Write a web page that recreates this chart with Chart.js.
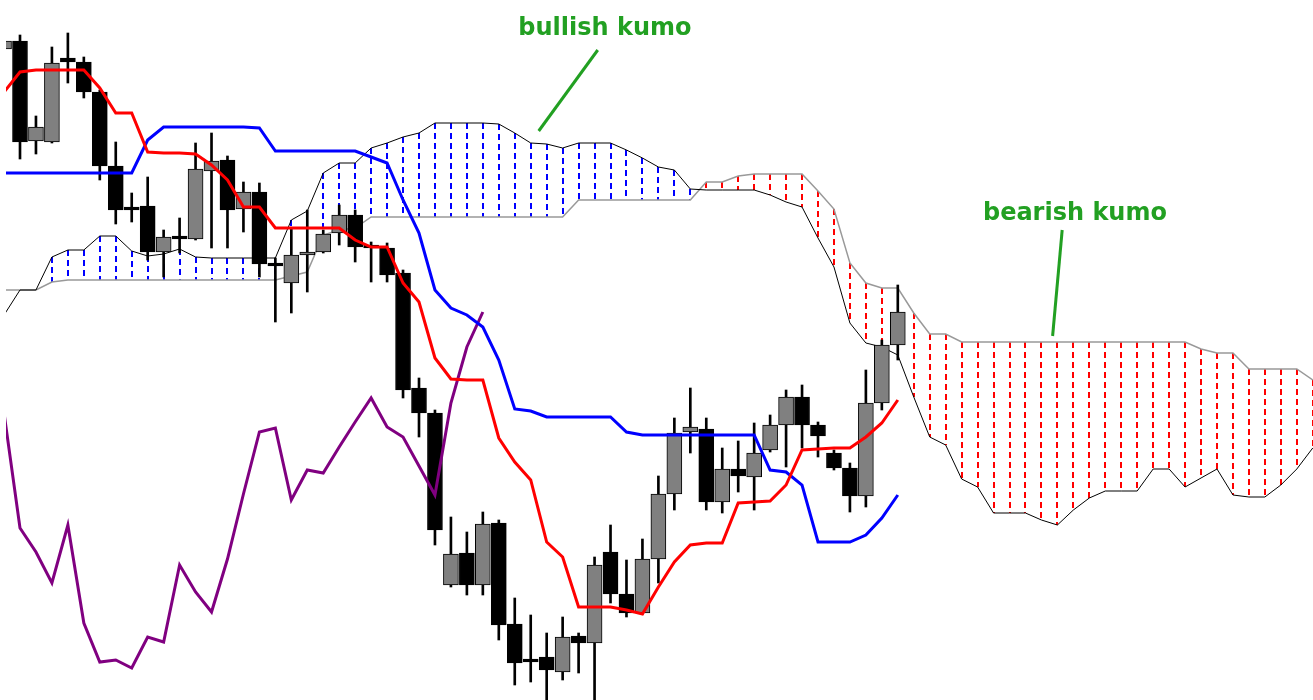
<!DOCTYPE html>
<html>
<head>
<meta charset="utf-8">
<title>Ichimoku kumo</title>
<script src="https://cdn.jsdelivr.net/npm/chart.js@4.4.1/dist/chart.umd.min.js"></script>
<style>
    html, body { margin: 0; padding: 0; background: #ffffff; }
    #wrap { width: 1313px; height: 700px; }
</style>
</head>
<body>
<div id="wrap"><canvas id="ichimoku-chart" width="1313" height="700"></canvas></div>
<script>
// Bar index of the first value in every array below (bar -1 is cut by the left edge)
const firstBar = -1;

// Candles, bars -1..55
const opens = [651, 659, 559, 558, 642, 638, 608, 534, 493, 494,
               448, 464, 461, 529, 540, 491, 508, 437, 417, 445,
               448, 467, 485, 455, 452, 427, 312, 287, 115, 147,
               115, 177, 76, 41, 43, 28, 64, 57, 148, 106,
               87, 141, 206, 268, 271, 198, 231, 223, 250, 275,
               303, 275, 247, 232, 204, 297, 355];
const highs = [662, 665, 584, 653, 667, 643, 610, 558, 507, 523,
               470, 482, 557, 567, 544, 518, 517, 442, 472, 490,
               470, 495, 490, 458, 457, 430, 322, 290, 183, 168,
               188, 180, 102, 85, 67, 83, 67, 143, 175, 140,
               161, 224, 282, 312, 282, 252, 259, 277, 285, 310,
               315, 278, 250, 237, 330, 360, 415];
const lows = [645, 541, 546, 557, 617, 602, 520, 476, 478, 440,
              423, 447, 460, 452, 452, 468, 423, 378, 387, 408,
              447, 455, 438, 418, 418, 302, 263, 155, 113, 105,
              105, 60, 15, 18, 0, 20, 27, 0, 97, 83,
              86, 117, 190, 247, 190, 187, 208, 190, 248, 233,
              252, 243, 230, 188, 193, 290, 340];
const closes = [659, 558, 573, 637, 638, 608, 534, 490, 490, 448,
                463, 461, 531, 539, 490, 508, 436, 434, 445, 448,
                466, 485, 453, 452, 425, 310, 287, 170, 146, 115,
                176, 75, 37, 38, 30, 63, 57, 135, 106, 87,
                141, 206, 267, 273, 198, 231, 224, 247, 275, 303,
                275, 264, 232, 204, 297, 355, 388];

// Tenkan-sen (red) and Kijun-sen (blue), bars -1..55
const tenkan = [608, 628, 630, 630, 630, 630, 612, 587, 587, 548,
                547, 547, 546, 535, 520, 493, 493, 472, 472, 472,
                472, 472, 460, 453, 453, 417, 398, 342, 321, 320,
                320, 262, 238, 220, 158, 143, 93, 93, 93, 90,
                86, 113, 138, 155, 157, 157, 197, 198, 199, 215,
                250, 251, 252, 252, 263, 277, 300];
const kijun = [527, 527, 527, 527, 527, 527, 527, 527, 527, 560,
               573, 573, 573, 573, 573, 573, 572, 549, 549, 549,
               549, 549, 549, 543, 537, 500, 467, 410, 392, 385,
               373, 340, 291, 289, 283, 283, 283, 283, 283, 268,
               265, 265, 265, 265, 265, 265, 265, 265, 230, 228,
               215, 158, 158, 158, 165, 182, 205];

// Chikou span (purple), bars -1..29
const chikou = [287, 172, 148, 117, 175, 77, 38, 40, 32, 63,
                58, 135, 108, 88, 141, 206, 268, 272, 200, 230,
                227, 253, 278, 302, 273, 263, 234, 205, 297, 353,
                388];

// Senkou span A (black) and B (grey), bars -1..81
const spanA = [385, 410, 410, 443, 450, 450, 464, 464, 449, 444,
               446, 451, 443, 442, 442, 442, 442, 442, 480, 489,
               527, 537, 537, 552, 557, 563, 567, 577, 577, 577,
               577, 576, 567, 557, 556, 552, 557, 557, 557, 550,
               542, 533, 530, 511, 510, 510, 510, 510, 505, 498,
               493, 462, 433, 377, 357, 353, 345, 303, 263, 255,
               221, 213, 187, 187, 187, 180, 175, 190, 202, 209,
               209, 209, 231, 231, 213, 222, 231, 205, 203, 203,
               215, 231, 252];
const spanB = [410, 410, 410, 418, 420, 420, 420, 420, 420, 420,
               420, 420, 420, 420, 420, 420, 420, 420, 424, 428,
               465, 470, 472, 483, 483, 483, 483, 483, 483, 483,
               483, 483, 483, 483, 483, 483, 500, 500, 500, 500,
               500, 500, 500, 500, 518, 518, 524, 526, 526, 526,
               526, 509, 491, 437, 417, 412, 412, 387, 366, 366,
               358, 358, 358, 358, 358, 358, 358, 358, 358, 358,
               358, 358, 358, 358, 358, 351, 347, 347, 331, 331,
               331, 331, 320];

// Notes: text, anchor bar, baseline price, pointer start and end (bar, price)
const noteTexts = ['bullish kumo', 'bearish kumo'];
const noteBars = [36.65, 66.1];
const notePrices = [665, 480];
const pointerFrom = [[36.2, 650], [65.3, 470]];
const pointerTo = [[32.5, 569], [64.7, 364]];

const BULL = '#808080';
const BEAR = '#000000';
const NOTE_GREEN = '#22a022';

const toPoints = function(values) {
    return values.map(function(v, k) {
        return { x: firstBar + k, y: v };
    });
};

const candleRange = function(a, b) {
    return a.map(function(v, k) {
        return { x: firstBar + k, y: [v, b[k]] };
    });
};

// Dashed verticals between the two senkou spans
const kumoHatch = {
    id: 'kumoHatch',
    beforeDatasetsDraw: function(chart) {
        const ctx = chart.ctx;
        const area = chart.chartArea;
        const x = chart.scales.x;
        const y = chart.scales.y;
        ctx.save();
        ctx.beginPath();
        ctx.rect(area.left, area.top, area.width, area.height);
        ctx.clip();
        ctx.lineWidth = 2;
        ctx.setLineDash([6, 4]);
        spanA.forEach(function(a, k) {
            const b = spanB[k];
            if (a === b) {
                return;
            }
            const px = Math.round(x.getPixelForValue(firstBar + k));
            ctx.strokeStyle = a > b ? '#0000ff' : '#ff0000';
            ctx.beginPath();
            ctx.moveTo(px, y.getPixelForValue(Math.max(a, b)));
            ctx.lineTo(px, y.getPixelForValue(Math.min(a, b)));
            ctx.stroke();
        });
        ctx.restore();
    }
};

// Green captions with their pointer lines
const kumoNotes = {
    id: 'kumoNotes',
    afterDatasetsDraw: function(chart) {
        const ctx = chart.ctx;
        const x = chart.scales.x;
        const y = chart.scales.y;
        ctx.save();
        ctx.fillStyle = NOTE_GREEN;
        ctx.strokeStyle = NOTE_GREEN;
        ctx.lineWidth = 3;
        ctx.font = 'bold 24px "DejaVu Sans"';
        ctx.textAlign = 'center';
        ctx.textBaseline = 'alphabetic';
        noteTexts.forEach(function(text, k) {
            ctx.fillText(text, x.getPixelForValue(noteBars[k]), y.getPixelForValue(notePrices[k]));
            ctx.beginPath();
            ctx.moveTo(x.getPixelForValue(pointerFrom[k][0]), y.getPixelForValue(pointerFrom[k][1]));
            ctx.lineTo(x.getPixelForValue(pointerTo[k][0]), y.getPixelForValue(pointerTo[k][1]));
            ctx.stroke();
        });
        ctx.restore();
    }
};

const lineSet = function(label, values, color, width, order) {
    return {
        type: 'line',
        label: label,
        data: toPoints(values),
        borderColor: color,
        borderWidth: width,
        pointRadius: 0,
        tension: 0,
        fill: false,
        order: order
    };
};

new Chart(document.getElementById('ichimoku-chart'), {
    type: 'bar',
    data: {
        datasets: [
            lineSet('Senkou span B', spanB, '#999999', 1.5, 6),
            lineSet('Senkou span A', spanA, '#000000', 1, 5),
            {
                label: 'Wicks',
                data: candleRange(lows, highs),
                backgroundColor: '#000000',
                borderWidth: 0,
                barThickness: 2,
                grouped: false,
                order: 4
            },
            {
                label: 'Bodies',
                data: candleRange(opens, closes),
                backgroundColor: function(c) {
                    const k = c.dataIndex;
                    return closes[k] >= opens[k] ? BULL : BEAR;
                },
                borderColor: '#000000',
                borderWidth: 1,
                borderSkipped: false,
                barThickness: 15,
                grouped: false,
                order: 3
            },
            lineSet('Chikou span', chikou, '#800080', 3, 2),
            lineSet('Kijun-sen', kijun, '#0000ff', 3, 1),
            lineSet('Tenkan-sen', tenkan, '#ff0000', 3, 0)
        ]
    },
    options: {
        responsive: false,
        animation: false,
        events: [],
        layout: { padding: { left: 6, right: 0, top: 0, bottom: 0 } },
        plugins: {
            legend: { display: false },
            tooltip: { enabled: false }
        },
        scales: {
            x: {
                type: 'linear',
                min: -0.877,
                max: 81.015,
                offset: false,
                display: false
            },
            y: {
                min: 0,
                max: 700,
                display: false
            }
        }
    },
    plugins: [kumoHatch, kumoNotes]
});
</script>
</body>
</html>
